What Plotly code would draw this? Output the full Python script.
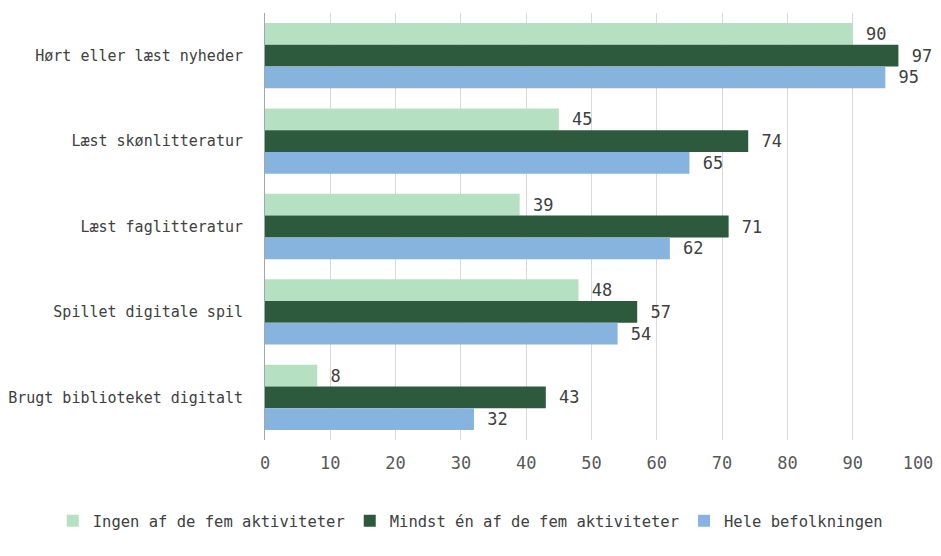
import plotly.graph_objects as go

categories = [
    "Hørt eller læst nyheder",
    "Læst skønlitteratur",
    "Læst faglitteratur",
    "Spillet digitale spil",
    "Brugt biblioteket digitalt",
]
ingen = [90, 45, 39, 48, 8]
mindst_en = [97, 74, 71, 57, 43]
hele = [95, 65, 62, 54, 32]

series = [
    ("Ingen af de fem aktiviteter", ingen, "#b5e1c2"),
    ("Mindst én af de fem aktiviteter", mindst_en, "#2d5a3c"),
    ("Hele befolkningen", hele, "#86b4de"),
]

FONT = "DejaVu Sans Mono, monospace"
TXT = "#404040"

fig = go.Figure()
for name, vals, color in series:
    fig.add_trace(go.Bar(
        y=categories, x=vals, name=name, orientation="h",
        marker=dict(color=color, line=dict(width=0)),
        text=["\u00a0" + str(v) for v in vals], textposition="outside",
        textfont=dict(family=FONT, size=17, color=TXT),
        cliponaxis=False,
    ))

fig.update_layout(
    width=941, height=556,
    margin=dict(l=265, r=23, t=13, b=116, autoexpand=False),
    paper_bgcolor="white", plot_bgcolor="white",
    barmode="group", bargap=0.235, bargroupgap=0,
    font=dict(family=FONT, size=15, color=TXT),
    showlegend=True,
    legend=dict(orientation="h", x=-0.325, xanchor="left",
                y=-0.19, yanchor="middle",
                font=dict(family=FONT, size=15.5, color=TXT),
                traceorder="normal", itemwidth=30),
)
fig.update_xaxes(range=[0, 100], dtick=10, showgrid=True, gridcolor="#d9d9d9",
                 gridwidth=1, zeroline=False, ticks="", showline=False,
                 ticklabelstandoff=11,
                 tickfont=dict(family=FONT, size=17, color="#595959"))
fig.update_yaxes(autorange="reversed", showgrid=False, ticks="", showline=True,
                 linecolor="#a6a6a6", linewidth=1, ticklabelstandoff=18,
                 tickfont=dict(family=FONT, size=15, color=TXT))

fig.write_html("out.html")
